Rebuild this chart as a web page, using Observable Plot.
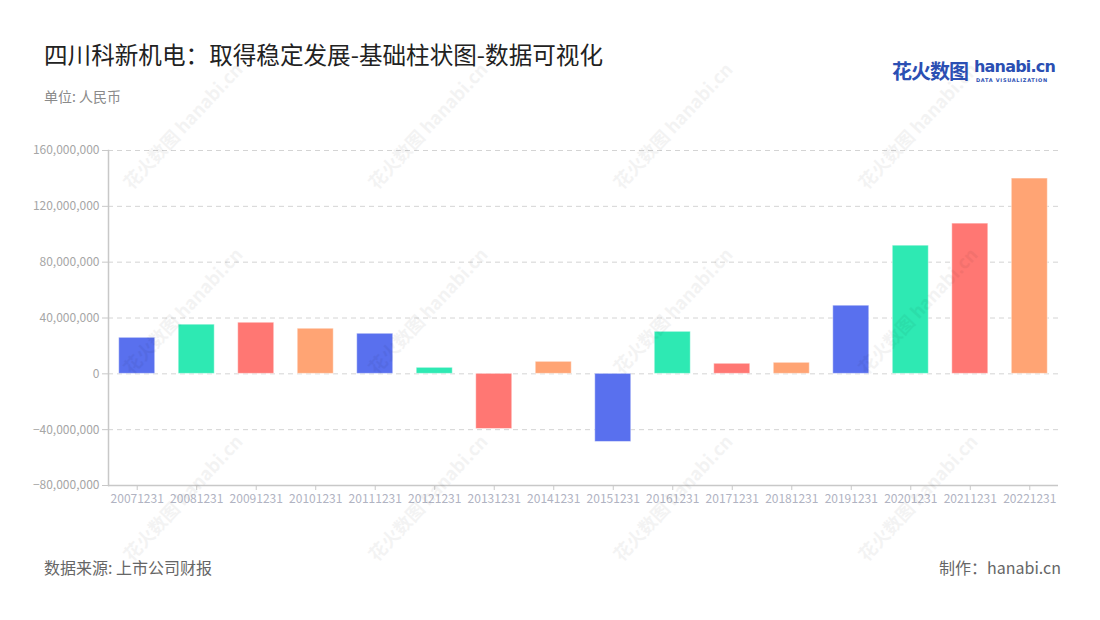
<!DOCTYPE html>
<html>
<head>
<meta charset="utf-8">
<script src="https://cdn.jsdelivr.net/npm/d3@7"></script>
<script src="https://cdn.jsdelivr.net/npm/@observablehq/plot@0.6"></script>
<style>
  html, body { margin: 0; padding: 0; background: #fff; }
  #root { position: relative; width: 1100px; height: 620px; overflow: hidden; font-family: "Noto Sans CJK SC", "Noto Sans", sans-serif; }
  .title { position: absolute; left: 44px; top: 37px; font-size: 23.6px; color: #222; }
  .subtitle { position: absolute; left: 44px; top: 86px; font-size: 14px; color: #8a8a8a; }
  .source { position: absolute; left: 44px; top: 555px; font-size: 16px; color: #666; }
  .credit { position: absolute; right: 39px; top: 555px; font-size: 16px; color: #666; }
  .logo { position: absolute; left: 892px; top: 56px; height: 30px; }
  .logo .cn { position: absolute; left: 0; top: 0; font-size: 20px; font-weight: bold; color: #2b4fb3; white-space: nowrap; letter-spacing: -1px; }
  .logo .en { position: absolute; left: 82px; top: 1px; font-size: 16px; font-weight: bold; color: #2b4fb3; font-family: "DejaVu Sans", sans-serif; white-space: nowrap; letter-spacing: -0.8px; }
  .logo .sub { position: absolute; left: 84px; top: 21px; font-size: 5px; color: #2b4fb3; font-family: "DejaVu Sans", sans-serif; white-space: nowrap; letter-spacing: 0.7px; font-weight: bold; }
  #chart { position: absolute; left: 0; top: 130px; }
  .wm { position: absolute; font-size: 18px; font-weight: bold; color: #000; opacity: 0.045; transform: translate(-50%, -50%) rotate(-47deg); white-space: nowrap; pointer-events: none; }
</style>
</head>
<body>
<div id="root">
  <div class="title">四川科新机电：取得稳定发展-基础柱状图-数据可视化</div>
  <div class="subtitle">单位: 人民币</div>
  <div class="logo"><span class="cn">花火数图</span><span class="en">hanabi.cn</span><span class="sub">DATA VISUALIZATION</span></div>
  <div id="chart"></div>
  <div class="source">数据来源: 上市公司财报</div>
  <div class="credit">制作：hanabi.cn</div>
</div>
<script>
const categories = ["20071231","20081231","20091231","20101231","20111231","20121231","20131231","20141231","20151231","20161231","20171231","20181231","20191231","20201231","20211231","20221231"];
const values = [25.8e6, 35.2e6, 36.6e6, 32.3e6, 28.7e6, 4.3e6, -39.5e6, 8.6e6, -48.8e6, 30.1e6, 7.2e6, 7.9e6, 48.8e6, 91.8e6, 107.6e6, 139.9e6];
const palette = ["#5970EE", "#2EE9B3", "#FF7773", "#FFA474"];
const yTicks = [-80e6, -40e6, 0, 40e6, 80e6, 120e6, 160e6];

const data = categories.map((c, i) => ({ date: c, value: values[i], color: palette[i % palette.length] }));

const chart = Plot.plot({
  width: 1100,
  height: 385,
  marginTop: 20,
  marginBottom: 30,
  marginLeft: 108,
  marginRight: 42,
  style: { fontFamily: "Noto Sans CJK SC, Noto Sans, sans-serif", fontSize: "12px", background: "transparent", overflow: "visible" },
  x: { domain: categories, paddingInner: 0.395, paddingOuter: 0.18, round: false, label: null },
  y: { domain: [-80e6, 160e6], label: null },
  marks: [
    Plot.gridY(yTicks.filter(d => d > -80e6), { stroke: "#d4d4d4", strokeOpacity: 1, strokeDasharray: "5,4", strokeWidth: 1 }),
    Plot.barY(data, { x: "date", y: "value", fill: "color", stroke: "#ffffff", strokeOpacity: 0.45, strokeWidth: 1 }),
    Plot.ruleY([-80e6], { stroke: "#c8c8c8", strokeWidth: 1.5 }),
    Plot.frame({ anchor: "left", stroke: "#c8c8c8", strokeWidth: 1.5 }),
    Plot.axisY(yTicks, { tickFormat: d3.format(","), tickSize: 6, tickPadding: 3, stroke: "#c8c8c8", fill: "#a6a6a6", label: null }),
    Plot.axisX({ tickSize: 5, tickPadding: 4, stroke: "#c8c8c8", fill: "#b0b3c2", label: null })
  ]
});
document.getElementById("chart").appendChild(chart);

// faint watermarks
const root = document.getElementById("root");
const wmX = [182, 427, 672, 917];
const wmY = [125, 310, 497];
wmY.forEach(y => wmX.forEach(x => {
  const d = document.createElement("div");
  d.className = "wm";
  d.style.left = x + "px";
  d.style.top = y + "px";
  d.textContent = "花火数图 hanabi.cn";
  root.appendChild(d);
}));
</script>
</body>
</html>
